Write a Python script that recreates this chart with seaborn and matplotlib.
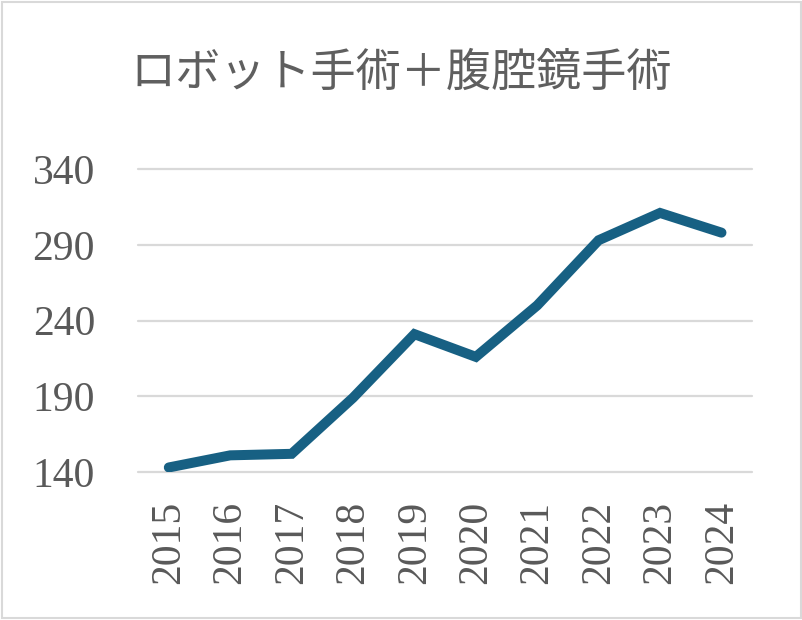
import matplotlib.pyplot as plt
import matplotlib.patches as mpatches
import pandas as pd
import seaborn as sns

# chart data
years = [2015, 2016, 2017, 2018, 2019, 2020, 2021, 2022, 2023, 2024]
cases = [143, 151, 152, 189, 231, 216, 250, 293, 311, 298]
y_ticks = [140, 190, 240, 290, 340]
title = "ロボット手術＋腹腔鏡手術"

data = pd.DataFrame({'Year': years, 'Cases': cases})

sns.set_style("white")
plt.rcParams['font.family'] = ['Liberation Serif', 'DejaVu Serif']

fig = plt.figure(figsize=(8.03, 6.2), dpi=100)
ax = fig.add_axes([0.172, 0.2387, 0.7647, 0.4887])

sns.lineplot(x='Year', y='Cases', data=data, ax=ax, color='#176083',
             linewidth=7.2, solid_capstyle='round', solid_joinstyle='miter')

ax.set_xlim(years[0] - 0.5, years[-1] + 0.5)
ax.set_ylim(y_ticks[0], y_ticks[-1])
ax.set_xticks(years)
ax.set_xticklabels([str(y) for y in years], rotation=90)
ax.set_yticks(y_ticks)
ax.set_yticklabels([str(v) for v in y_ticks])
ax.tick_params(axis='both', length=0, labelsize=30, labelcolor='#595959')
ax.tick_params(axis='y', pad=31)
ax.tick_params(axis='x', pad=21)
ax.set_xlabel('')
ax.set_ylabel('')

# horizontal gridlines only
ax.grid(False)
for v in y_ticks:
    ax.axhline(v, color='#d9d9d9', linewidth=1.6, zorder=0, clip_on=False)
for side in ax.spines.values():
    side.set_visible(False)

fig.text(0.5, 0.882, title, ha='center', va='center', fontsize=32.5,
         color='#5f5f5f', family=['Noto Sans CJK JP', 'DejaVu Sans'])

# chart border
fig.patches.append(mpatches.Rectangle((0.003, 0.003), 0.994, 0.994,
                                      transform=fig.transFigure, fill=False,
                                      edgecolor='#d9d9d9', linewidth=1.5))

fig.savefig('out.png', dpi=100)
